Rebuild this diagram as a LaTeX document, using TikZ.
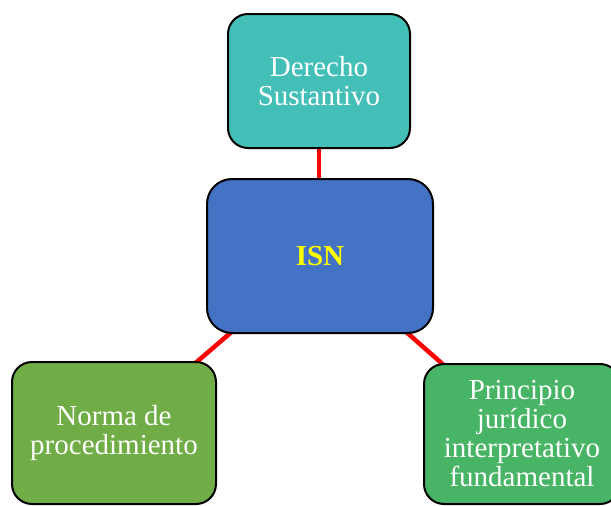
\documentclass[tikz,border=0pt]{standalone}
\usepackage{fontspec}
\setmainfont{Liberation Serif}
\usetikzlibrary{backgrounds}
\definecolor{cteal}{HTML}{43BFB8}
\definecolor{cblue}{HTML}{4472C4}
\definecolor{cleft}{HTML}{70AD47}
\definecolor{cright}{HTML}{47B466}
\definecolor{cyel}{HTML}{FFFF00}
\tikzset{
  box/.style={draw=black, line width=2pt, rounded corners=20pt, inner sep=0pt,
    align=center, text=white, font=\fontsize{29}{29}\selectfont},
  link/.style={draw=red, line width=4.5pt}
}
\begin{document}
\begin{tikzpicture}[x=1pt,y=-1pt]
\useasboundingbox (0,0) rectangle (611,506);
\clip (0,0) rectangle (611,506);
\node[box, fill=cteal, minimum width=182pt, minimum height=134pt] (top) at (319,81) {Derecho\\Sustantivo};
\node[box, fill=cblue, minimum width=226pt, minimum height=154pt, rounded corners=25pt, text=cyel, font=\fontsize{29}{29}\selectfont\bfseries] (isn) at (320,256) {ISN};
\node[box, fill=cleft, minimum width=204pt, minimum height=142pt] (left) at (114,433) {Norma de\\procedimiento};
\node[box, fill=cright, minimum width=196pt, minimum height=140pt] (right) at (522,434) {Principio\\jurídico\\interpretativo\\fundamental};
\begin{scope}[on background layer]
\draw[link] (top.center) -- (top.center |- isn.center);
\draw[link] (isn.center) -- (left.center);
\draw[link] (isn.center) -- (right.center);
\end{scope}
\end{tikzpicture}
\end{document}
